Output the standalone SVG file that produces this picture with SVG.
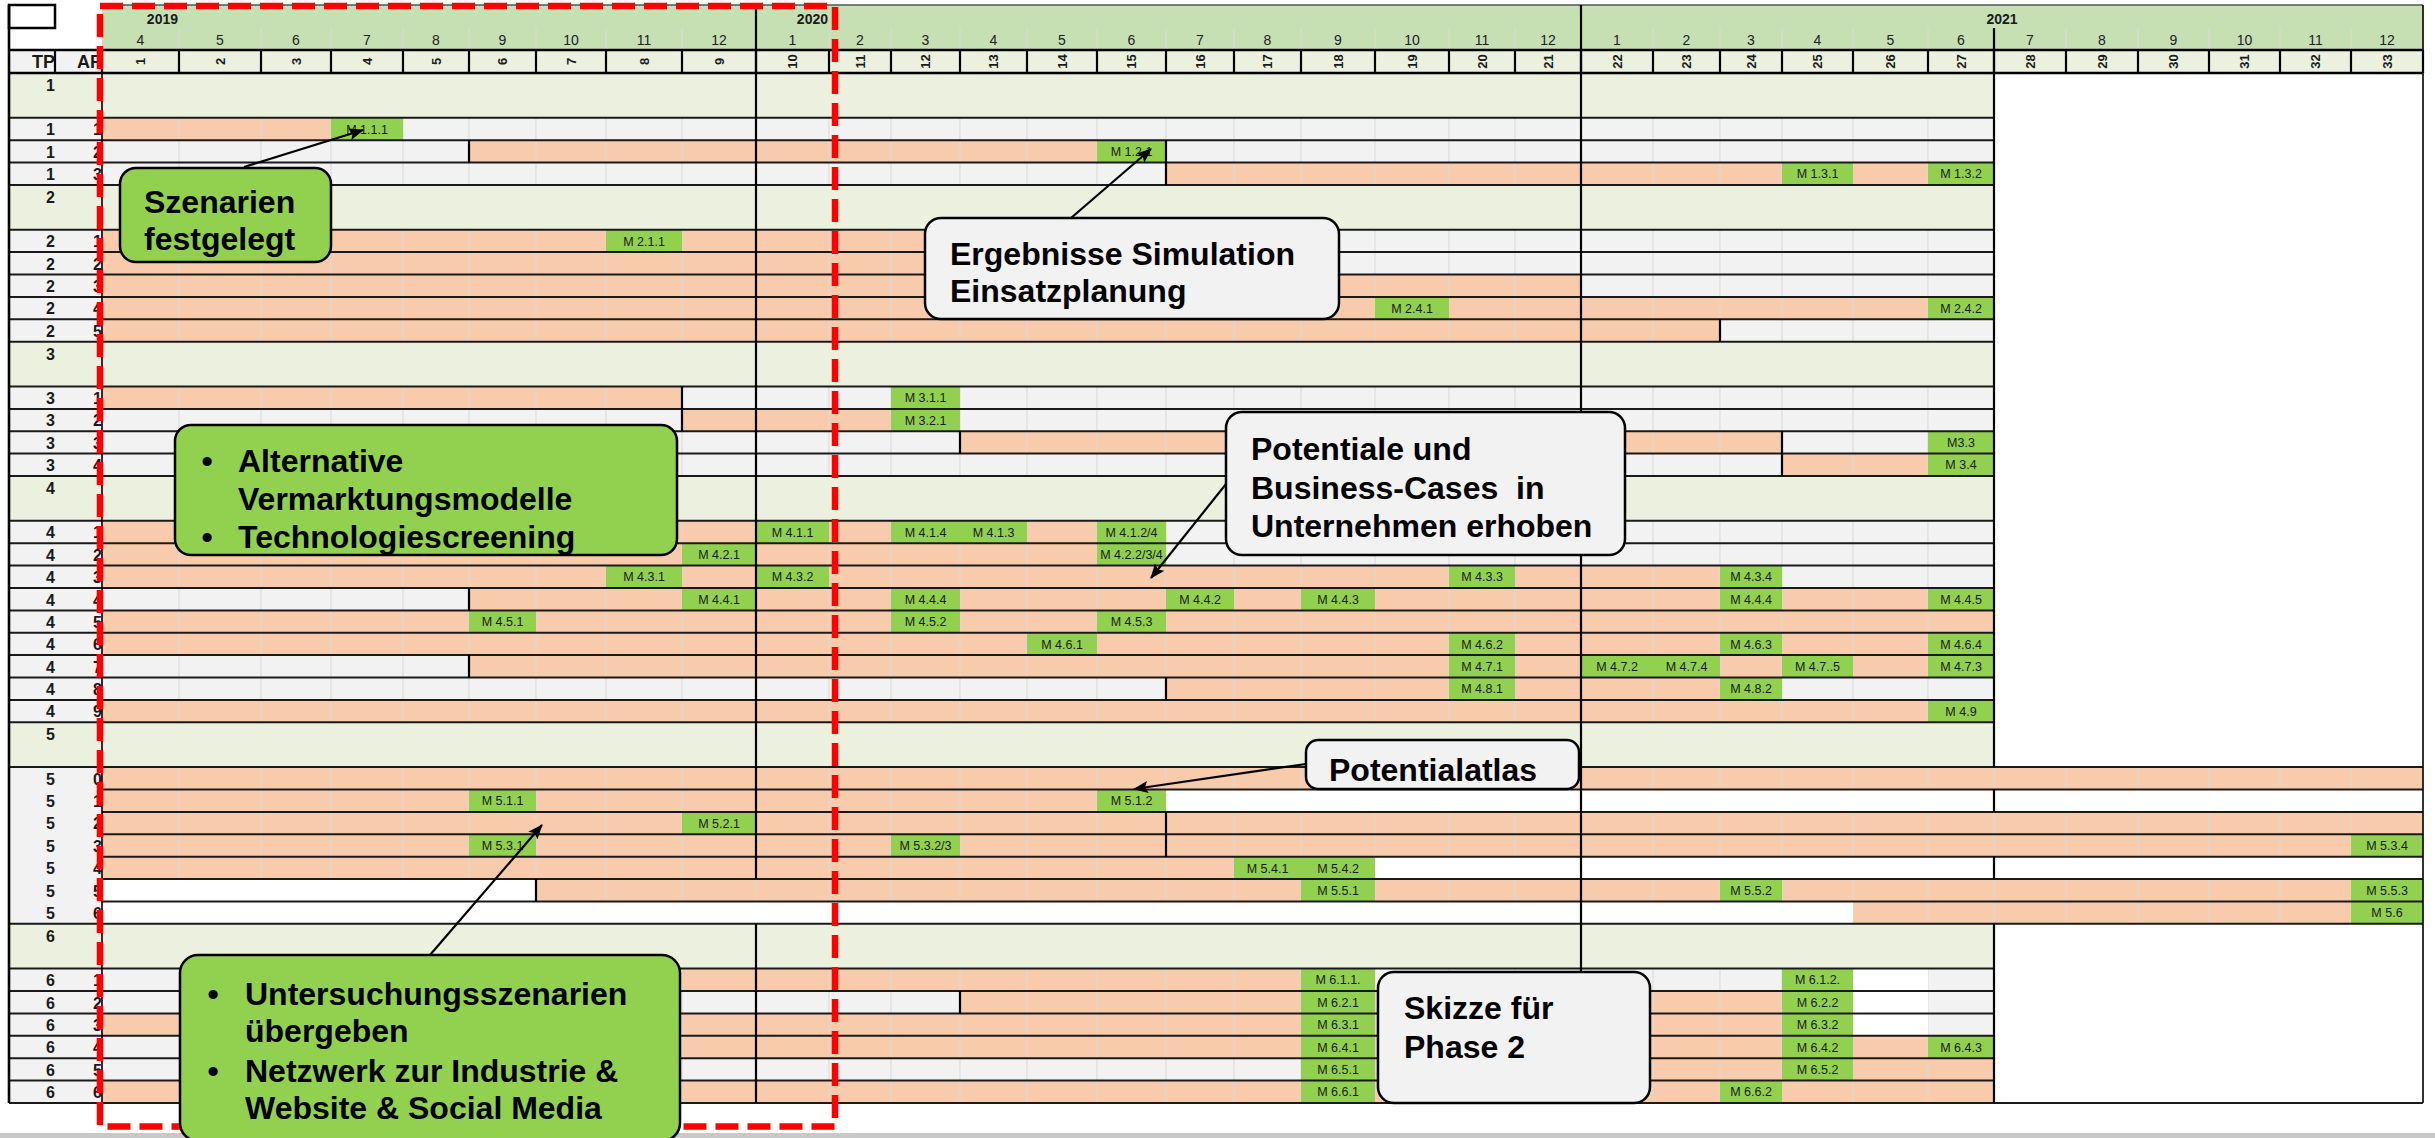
<svg xmlns="http://www.w3.org/2000/svg" width="2435" height="1138" viewBox="0 0 2435 1138">
<defs>
<style>
.o{fill:#F8CBAD}.g{fill:#F2F2F2}.w{fill:#FFFFFF}.m{fill:#92D050}.h{fill:#EBF1DE}
text{font-family:'Liberation Sans',Arial,sans-serif}
.ml{font-size:12.5px;text-anchor:middle;fill:#1a1a1a}
.tp{font-size:16px;font-weight:bold;text-anchor:end;fill:#1a1a1a}
.ap{font-size:16px;font-weight:bold;fill:#1a1a1a}
.mon{font-size:14px;text-anchor:middle;fill:#222}
.yr{font-size:14px;font-weight:bold;fill:#1a1a1a}
.apn{font-size:13px;font-weight:bold;text-anchor:middle;fill:#1a1a1a}
.hd{font-size:18px;font-weight:bold;fill:#1a1a1a}
.co{font-size:32px;font-weight:bold;fill:#000}
.bg{fill:#92D050;stroke:#000;stroke-width:2.5}
.bw{fill:#F2F2F2;stroke:#000;stroke-width:2.5}
.grid{stroke:#D9D9D9;stroke-width:1;fill:none}
.sep{stroke:#1a1a1a;stroke-width:2;fill:none}
.blk{stroke:#000;stroke-width:2.2;fill:none}
.con{stroke:#000;stroke-width:2.2;fill:none;marker-end:url(#arrow)}
</style>
<marker id="arrow" markerUnits="userSpaceOnUse" markerWidth="16" markerHeight="12" refX="14" refY="6" orient="auto">
<path d="M0,0 L15,6 L0,12 L3,6 Z" fill="#000"/>
</marker>
<clipPath id="labelclip"><rect x="9" y="73" width="93" height="1030"/></clipPath>
</defs>

<rect x="0" y="0" width="2435" height="1138" fill="#FFFFFF"/>
<rect x="0" y="1133" width="2435" height="5" fill="#C8C8C8"/>

<!-- header -->
<g id="header">
<rect x="102" y="5" width="2321" height="45" fill="#C6E0B4"/>
<rect x="9" y="50" width="93" height="23" class="g"/>
<rect x="102" y="50" width="2321" height="23" class="h"/>
<path class="grid" stroke="#CFCFCF" d="M179 28V50M261 28V50M331 28V50M403 28V50M469 28V50M536 28V50M606 28V50M682 28V50M829 28V50M891 28V50M960 28V50M1027 28V50M1097 28V50M1166 28V50M1234 28V50M1301 28V50M1375 28V50M1449 28V50M1515 28V50M1653 28V50M1720 28V50M1782 28V50M1853 28V50M1928 28V50M2066 28V50M2138 28V50M2209 28V50M2280 28V50M2351 28V50"/>
<path d="M102 5H2423" stroke="#555" stroke-width="1.5"/>
<rect x="9" y="5" width="46" height="23" fill="#fff" stroke="#000" stroke-width="2.5"/>
<text class="yr" x="178" y="24" text-anchor="end">2019</text>
<text class="yr" x="828" y="24" text-anchor="end">2020</text>
<text class="yr" x="2002" y="24" text-anchor="middle">2021</text>
<g class="mon">
<text x="140.5" y="45">4</text><text x="220" y="45">5</text><text x="296" y="45">6</text><text x="367" y="45">7</text><text x="436" y="45">8</text><text x="502.5" y="45">9</text><text x="571" y="45">10</text><text x="644" y="45">11</text><text x="719" y="45">12</text>
<text x="792.5" y="45">1</text><text x="860" y="45">2</text><text x="925.5" y="45">3</text><text x="993.5" y="45">4</text><text x="1062" y="45">5</text><text x="1131.5" y="45">6</text><text x="1200" y="45">7</text><text x="1267.5" y="45">8</text><text x="1338" y="45">9</text><text x="1412" y="45">10</text><text x="1482" y="45">11</text><text x="1548" y="45">12</text>
<text x="1617" y="45">1</text><text x="1686.5" y="45">2</text><text x="1751" y="45">3</text><text x="1817.5" y="45">4</text><text x="1890.5" y="45">5</text><text x="1961" y="45">6</text><text x="2030" y="45">7</text><text x="2102" y="45">8</text><text x="2173.5" y="45">9</text><text x="2244.5" y="45">10</text><text x="2315.5" y="45">11</text><text x="2387" y="45">12</text>
</g>
<g class="apn">
<text transform="translate(145,61.5) rotate(-90)">1</text><text transform="translate(224.5,61.5) rotate(-90)">2</text><text transform="translate(300.5,61.5) rotate(-90)">3</text><text transform="translate(371.5,61.5) rotate(-90)">4</text><text transform="translate(440.5,61.5) rotate(-90)">5</text><text transform="translate(507,61.5) rotate(-90)">6</text><text transform="translate(575.5,61.5) rotate(-90)">7</text><text transform="translate(648.5,61.5) rotate(-90)">8</text><text transform="translate(723.5,61.5) rotate(-90)">9</text><text transform="translate(797,61.5) rotate(-90)">10</text><text transform="translate(864.5,61.5) rotate(-90)">11</text><text transform="translate(930,61.5) rotate(-90)">12</text><text transform="translate(998,61.5) rotate(-90)">13</text><text transform="translate(1066.5,61.5) rotate(-90)">14</text><text transform="translate(1136,61.5) rotate(-90)">15</text><text transform="translate(1204.5,61.5) rotate(-90)">16</text><text transform="translate(1272,61.5) rotate(-90)">17</text><text transform="translate(1342.5,61.5) rotate(-90)">18</text><text transform="translate(1416.5,61.5) rotate(-90)">19</text><text transform="translate(1486.5,61.5) rotate(-90)">20</text><text transform="translate(1552.5,61.5) rotate(-90)">21</text><text transform="translate(1621.5,61.5) rotate(-90)">22</text><text transform="translate(1691,61.5) rotate(-90)">23</text><text transform="translate(1755.5,61.5) rotate(-90)">24</text><text transform="translate(1822,61.5) rotate(-90)">25</text><text transform="translate(1895,61.5) rotate(-90)">26</text><text transform="translate(1965.5,61.5) rotate(-90)">27</text><text transform="translate(2034.5,61.5) rotate(-90)">28</text><text transform="translate(2106.5,61.5) rotate(-90)">29</text><text transform="translate(2178,61.5) rotate(-90)">30</text><text transform="translate(2249,61.5) rotate(-90)">31</text><text transform="translate(2320,61.5) rotate(-90)">32</text><text transform="translate(2391.5,61.5) rotate(-90)">33</text>
</g>
<path class="blk" d="M102 50V73M179 50V73M261 50V73M331 50V73M403 50V73M469 50V73M536 50V73M606 50V73M682 50V73M756 50V73M829 50V73M891 50V73M960 50V73M1027 50V73M1097 50V73M1166 50V73M1234 50V73M1301 50V73M1375 50V73M1449 50V73M1515 50V73M1581 50V73M1653 50V73M1720 50V73M1782 50V73M1853 50V73M1928 50V73M1994 50V73M2066 50V73M2138 50V73M2209 50V73M2280 50V73M2351 50V73M2423 50V73M55 50V73"/>
<text class="hd" x="55" y="68" text-anchor="end">TP</text>
<text class="hd" x="77" y="68">AP</text>
</g>

<!-- work packages: base fills and bars -->
<g id="bars">
<rect class="g" x="9" y="73" width="1985" height="1030"/>
<rect class="o" x="102" y="767.1" width="2321" height="156.7"/>
<rect class="o" x="102" y="117.8" width="229" height="22.4"/>
<rect class="o" x="469" y="140.2" width="628" height="22.4"/>
<rect class="o" x="1166" y="162.6" width="616" height="22.4"/>
<rect class="o" x="1853" y="162.6" width="75" height="22.4"/>
<rect class="o" x="102" y="229.7" width="1064" height="22.4"/>
<rect class="o" x="102" y="252.1" width="1064" height="22.4"/>
<rect class="o" x="102" y="274.5" width="1479" height="22.4"/>
<rect class="o" x="102" y="296.9" width="1826" height="22.4"/>
<rect class="o" x="102" y="319.3" width="1618" height="22.4"/>
<rect class="o" x="102" y="386.5" width="580" height="22.4"/>
<rect class="o" x="682" y="408.9" width="209" height="22.4"/>
<rect class="o" x="960" y="431.2" width="822" height="22.4"/>
<rect class="o" x="1782" y="453.6" width="146" height="22.4"/>
<rect class="o" x="102" y="520.8" width="995" height="22.4"/>
<rect class="o" x="102" y="543.2" width="995" height="22.4"/>
<rect class="o" x="102" y="565.6" width="1618" height="22.4"/>
<rect class="o" x="469" y="588" width="1525" height="22.4"/>
<rect class="o" x="102" y="610.4" width="1892" height="22.4"/>
<rect class="o" x="102" y="632.8" width="1892" height="22.4"/>
<rect class="o" x="469" y="655.1" width="1525" height="22.4"/>
<rect class="o" x="1166" y="677.5" width="554" height="22.4"/>
<rect class="o" x="102" y="699.9" width="1892" height="22.4"/>
<rect class="o" x="261" y="968.6" width="1040" height="22.4"/>
<rect class="o" x="960" y="991" width="822" height="22.4"/>
<rect class="o" x="102" y="1013.4" width="1680" height="22.4"/>
<rect class="o" x="261" y="1035.8" width="1733" height="22.4"/>
<rect class="o" x="1375" y="1058.2" width="619" height="22.4"/>
<rect class="o" x="102" y="1080.6" width="1892" height="22.4"/>
</g>

<!-- month grid -->
<path id="grid" class="grid" d="M179 73V1103M261 73V1103M331 73V1103M403 73V1103M469 73V1103M536 73V1103M606 73V1103M682 73V1103M756 73V1103M829 73V1103M891 73V1103M960 73V1103M1027 73V1103M1097 73V1103M1166 73V1103M1234 73V1103M1301 73V1103M1375 73V1103M1449 73V1103M1515 73V1103M1581 73V1103M1653 73V1103M1720 73V1103M1782 73V1103M1853 73V1103M1928 73V1103M1994 767V924M2066 767V924M2138 767V924M2209 767V924M2280 767V924M2351 767V924"/>

<!-- empty cells and sub-project header rows -->
<g id="blanks">
<rect class="w" x="1994" y="73" width="429" height="694.1"/>
<rect class="w" x="1994" y="923.8" width="429" height="179.2"/>
<rect class="w" x="1166" y="789.5" width="1257" height="22.4"/>
<rect class="w" x="1375" y="856.7" width="1048" height="22.4"/>
<rect class="w" x="102" y="879" width="434" height="22.4"/>
<rect class="w" x="102" y="901.4" width="1751" height="22.4"/>
<rect class="w" x="1853" y="968.6" width="75" height="67.2"/>
<rect class="h" x="9" y="73" width="1985" height="44.8"/>
<rect class="h" x="9" y="185" width="1985" height="44.7"/>
<rect class="h" x="9" y="341.7" width="1985" height="44.8"/>
<rect class="h" x="9" y="476" width="1985" height="44.8"/>
<rect class="h" x="9" y="722.3" width="1985" height="44.8"/>
<rect class="h" x="9" y="923.8" width="1985" height="44.8"/>
</g>

<!-- row labels TP / AP -->
<g id="labels" clip-path="url(#labelclip)">
<text class="tp" x="55" y="91">1</text>
<text class="tp" x="55" y="135.3">1</text><text class="ap" x="93" y="135.3">1</text>
<text class="tp" x="55" y="157.7">1</text><text class="ap" x="93" y="157.7">2</text>
<text class="tp" x="55" y="180.1">1</text><text class="ap" x="93" y="180.1">3</text>
<text class="tp" x="55" y="203">2</text>
<text class="tp" x="55" y="247.2">2</text><text class="ap" x="93" y="247.2">1</text>
<text class="tp" x="55" y="269.6">2</text><text class="ap" x="93" y="269.6">2</text>
<text class="tp" x="55" y="292">2</text><text class="ap" x="93" y="292">3</text>
<text class="tp" x="55" y="314.4">2</text><text class="ap" x="93" y="314.4">4</text>
<text class="tp" x="55" y="336.8">2</text><text class="ap" x="93" y="336.8">5</text>
<text class="tp" x="55" y="359.7">3</text>
<text class="tp" x="55" y="404">3</text><text class="ap" x="93" y="404">1</text>
<text class="tp" x="55" y="426.4">3</text><text class="ap" x="93" y="426.4">2</text>
<text class="tp" x="55" y="448.7">3</text><text class="ap" x="93" y="448.7">3</text>
<text class="tp" x="55" y="471.1">3</text><text class="ap" x="93" y="471.1">4</text>
<text class="tp" x="55" y="494">4</text>
<text class="tp" x="55" y="538.3">4</text><text class="ap" x="93" y="538.3">1</text>
<text class="tp" x="55" y="560.7">4</text><text class="ap" x="93" y="560.7">2</text>
<text class="tp" x="55" y="583.1">4</text><text class="ap" x="93" y="583.1">3</text>
<text class="tp" x="55" y="605.5">4</text><text class="ap" x="93" y="605.5">4</text>
<text class="tp" x="55" y="627.9">4</text><text class="ap" x="93" y="627.9">5</text>
<text class="tp" x="55" y="650.3">4</text><text class="ap" x="93" y="650.3">6</text>
<text class="tp" x="55" y="672.6">4</text><text class="ap" x="93" y="672.6">7</text>
<text class="tp" x="55" y="695">4</text><text class="ap" x="93" y="695">8</text>
<text class="tp" x="55" y="717.4">4</text><text class="ap" x="93" y="717.4">9</text>
<text class="tp" x="55" y="740.3">5</text>
<text class="tp" x="55" y="784.6">5</text><text class="ap" x="93" y="784.6">0</text>
<text class="tp" x="55" y="807">5</text><text class="ap" x="93" y="807">1</text>
<text class="tp" x="55" y="829.4">5</text><text class="ap" x="93" y="829.4">2</text>
<text class="tp" x="55" y="851.8">5</text><text class="ap" x="93" y="851.8">3</text>
<text class="tp" x="55" y="874.2">5</text><text class="ap" x="93" y="874.2">4</text>
<text class="tp" x="55" y="896.5">5</text><text class="ap" x="93" y="896.5">5</text>
<text class="tp" x="55" y="918.9">5</text><text class="ap" x="93" y="918.9">6</text>
<text class="tp" x="55" y="941.8">6</text>
<text class="tp" x="55" y="986.1">6</text><text class="ap" x="93" y="986.1">1</text>
<text class="tp" x="55" y="1008.5">6</text><text class="ap" x="93" y="1008.5">2</text>
<text class="tp" x="55" y="1030.9">6</text><text class="ap" x="93" y="1030.9">3</text>
<text class="tp" x="55" y="1053.3">6</text><text class="ap" x="93" y="1053.3">4</text>
<text class="tp" x="55" y="1075.7">6</text><text class="ap" x="93" y="1075.7">5</text>
<text class="tp" x="55" y="1098.1">6</text><text class="ap" x="93" y="1098.1">6</text>
</g>

<!-- milestones -->
<g id="milestones">
<rect class="m" x="331" y="117.8" width="72" height="22.4"/><text class="ml" x="367" y="133.6">M 1.1.1</text>
<rect class="m" x="1097" y="140.2" width="69" height="22.4"/><text class="ml" x="1131.5" y="156">M 1.2.1</text>
<rect class="m" x="1782" y="162.6" width="71" height="22.4"/><text class="ml" x="1817.5" y="178.4">M 1.3.1</text>
<rect class="m" x="1928" y="162.6" width="66" height="22.4"/><text class="ml" x="1961" y="178.4">M 1.3.2</text>
<rect class="m" x="606" y="229.7" width="76" height="22.4"/><text class="ml" x="644" y="245.5">M 2.1.1</text>
<rect class="m" x="1375" y="296.9" width="74" height="22.4"/><text class="ml" x="1412" y="312.7">M 2.4.1</text>
<rect class="m" x="1928" y="296.9" width="66" height="22.4"/><text class="ml" x="1961" y="312.7">M 2.4.2</text>
<rect class="m" x="891" y="386.5" width="69" height="22.4"/><text class="ml" x="925.5" y="402.3">M 3.1.1</text>
<rect class="m" x="891" y="408.9" width="69" height="22.4"/><text class="ml" x="925.5" y="424.7">M 3.2.1</text>
<rect class="m" x="1928" y="431.2" width="66" height="22.4"/><text class="ml" x="1961" y="447">M3.3</text>
<rect class="m" x="1928" y="453.6" width="66" height="22.4"/><text class="ml" x="1961" y="469.4">M 3.4</text>
<rect class="m" x="756" y="520.8" width="73" height="22.4"/><text class="ml" x="792.5" y="536.6">M 4.1.1</text>
<rect class="m" x="891" y="520.8" width="69" height="22.4"/><text class="ml" x="925.5" y="536.6">M 4.1.4</text>
<rect class="m" x="960" y="520.8" width="67" height="22.4"/><text class="ml" x="993.5" y="536.6">M 4.1.3</text>
<rect class="m" x="1097" y="520.8" width="69" height="22.4"/><text class="ml" x="1131.5" y="536.6">M 4.1.2/4</text>
<rect class="m" x="682" y="543.2" width="74" height="22.4"/><text class="ml" x="719" y="559">M 4.2.1</text>
<rect class="m" x="1097" y="543.2" width="69" height="22.4"/><text class="ml" x="1131.5" y="559">M 4.2.2/3/4</text>
<rect class="m" x="606" y="565.6" width="76" height="22.4"/><text class="ml" x="644" y="581.4">M 4.3.1</text>
<rect class="m" x="756" y="565.6" width="73" height="22.4"/><text class="ml" x="792.5" y="581.4">M 4.3.2</text>
<rect class="m" x="1449" y="565.6" width="66" height="22.4"/><text class="ml" x="1482" y="581.4">M 4.3.3</text>
<rect class="m" x="1720" y="565.6" width="62" height="22.4"/><text class="ml" x="1751" y="581.4">M 4.3.4</text>
<rect class="m" x="682" y="588" width="74" height="22.4"/><text class="ml" x="719" y="603.8">M 4.4.1</text>
<rect class="m" x="891" y="588" width="69" height="22.4"/><text class="ml" x="925.5" y="603.8">M 4.4.4</text>
<rect class="m" x="1166" y="588" width="68" height="22.4"/><text class="ml" x="1200" y="603.8">M 4.4.2</text>
<rect class="m" x="1301" y="588" width="74" height="22.4"/><text class="ml" x="1338" y="603.8">M 4.4.3</text>
<rect class="m" x="1720" y="588" width="62" height="22.4"/><text class="ml" x="1751" y="603.8">M 4.4.4</text>
<rect class="m" x="1928" y="588" width="66" height="22.4"/><text class="ml" x="1961" y="603.8">M 4.4.5</text>
<rect class="m" x="469" y="610.4" width="67" height="22.4"/><text class="ml" x="502.5" y="626.2">M 4.5.1</text>
<rect class="m" x="891" y="610.4" width="69" height="22.4"/><text class="ml" x="925.5" y="626.2">M 4.5.2</text>
<rect class="m" x="1097" y="610.4" width="69" height="22.4"/><text class="ml" x="1131.5" y="626.2">M 4.5.3</text>
<rect class="m" x="1027" y="632.8" width="70" height="22.4"/><text class="ml" x="1062" y="648.6">M 4.6.1</text>
<rect class="m" x="1449" y="632.8" width="66" height="22.4"/><text class="ml" x="1482" y="648.6">M 4.6.2</text>
<rect class="m" x="1720" y="632.8" width="62" height="22.4"/><text class="ml" x="1751" y="648.6">M 4.6.3</text>
<rect class="m" x="1928" y="632.8" width="66" height="22.4"/><text class="ml" x="1961" y="648.6">M 4.6.4</text>
<rect class="m" x="1449" y="655.1" width="66" height="22.4"/><text class="ml" x="1482" y="670.9">M 4.7.1</text>
<rect class="m" x="1581" y="655.1" width="72" height="22.4"/><text class="ml" x="1617" y="670.9">M 4.7.2</text>
<rect class="m" x="1653" y="655.1" width="67" height="22.4"/><text class="ml" x="1686.5" y="670.9">M 4.7.4</text>
<rect class="m" x="1782" y="655.1" width="71" height="22.4"/><text class="ml" x="1817.5" y="670.9">M 4.7..5</text>
<rect class="m" x="1928" y="655.1" width="66" height="22.4"/><text class="ml" x="1961" y="670.9">M 4.7.3</text>
<rect class="m" x="1449" y="677.5" width="66" height="22.4"/><text class="ml" x="1482" y="693.3">M 4.8.1</text>
<rect class="m" x="1720" y="677.5" width="62" height="22.4"/><text class="ml" x="1751" y="693.3">M 4.8.2</text>
<rect class="m" x="1928" y="699.9" width="66" height="22.4"/><text class="ml" x="1961" y="715.7">M 4.9</text>
<rect class="m" x="469" y="789.5" width="67" height="22.4"/><text class="ml" x="502.5" y="805.3">M 5.1.1</text>
<rect class="m" x="1097" y="789.5" width="69" height="22.4"/><text class="ml" x="1131.5" y="805.3">M 5.1.2</text>
<rect class="m" x="682" y="811.9" width="74" height="22.4"/><text class="ml" x="719" y="827.7">M 5.2.1</text>
<rect class="m" x="469" y="834.3" width="67" height="22.4"/><text class="ml" x="502.5" y="850.1">M 5.3.1</text>
<rect class="m" x="891" y="834.3" width="69" height="22.4"/><text class="ml" x="925.5" y="850.1">M 5.3.2/3</text>
<rect class="m" x="2351" y="834.3" width="72" height="22.4"/><text class="ml" x="2387" y="850.1">M 5.3.4</text>
<rect class="m" x="1234" y="856.7" width="67" height="22.4"/><text class="ml" x="1267.5" y="872.5">M 5.4.1</text>
<rect class="m" x="1301" y="856.7" width="74" height="22.4"/><text class="ml" x="1338" y="872.5">M 5.4.2</text>
<rect class="m" x="1301" y="879" width="74" height="22.4"/><text class="ml" x="1338" y="894.8">M 5.5.1</text>
<rect class="m" x="1720" y="879" width="62" height="22.4"/><text class="ml" x="1751" y="894.8">M 5.5.2</text>
<rect class="m" x="2351" y="879" width="72" height="22.4"/><text class="ml" x="2387" y="894.8">M 5.5.3</text>
<rect class="m" x="2351" y="901.4" width="72" height="22.4"/><text class="ml" x="2387" y="917.2">M 5.6</text>
<rect class="m" x="1301" y="968.6" width="74" height="22.4"/><text class="ml" x="1338" y="984.4">M 6.1.1.</text>
<rect class="m" x="1782" y="968.6" width="71" height="22.4"/><text class="ml" x="1817.5" y="984.4">M 6.1.2.</text>
<rect class="m" x="1301" y="991" width="74" height="22.4"/><text class="ml" x="1338" y="1006.8">M 6.2.1</text>
<rect class="m" x="1782" y="991" width="71" height="22.4"/><text class="ml" x="1817.5" y="1006.8">M 6.2.2</text>
<rect class="m" x="1301" y="1013.4" width="74" height="22.4"/><text class="ml" x="1338" y="1029.2">M 6.3.1</text>
<rect class="m" x="1782" y="1013.4" width="71" height="22.4"/><text class="ml" x="1817.5" y="1029.2">M 6.3.2</text>
<rect class="m" x="1301" y="1035.8" width="74" height="22.4"/><text class="ml" x="1338" y="1051.6">M 6.4.1</text>
<rect class="m" x="1782" y="1035.8" width="71" height="22.4"/><text class="ml" x="1817.5" y="1051.6">M 6.4.2</text>
<rect class="m" x="1928" y="1035.8" width="66" height="22.4"/><text class="ml" x="1961" y="1051.6">M 6.4.3</text>
<rect class="m" x="1301" y="1058.2" width="74" height="22.4"/><text class="ml" x="1338" y="1074">M 6.5.1</text>
<rect class="m" x="1782" y="1058.2" width="71" height="22.4"/><text class="ml" x="1817.5" y="1074">M 6.5.2</text>
<rect class="m" x="1301" y="1080.6" width="74" height="22.4"/><text class="ml" x="1338" y="1096.4">M 6.6.1</text>
<rect class="m" x="1720" y="1080.6" width="62" height="22.4"/><text class="ml" x="1751" y="1096.4">M 6.6.2</text>
</g>

<!-- row separators and borders -->
<g id="rules">
<path class="sep" d="M9 117.8H1994M9 140.2H1994M9 162.6H1994M9 185H1994M9 229.7H1994M9 252.1H1994M9 274.5H1994M9 296.9H1994M9 319.3H1994M9 341.7H1994M9 386.5H1994M9 408.9H1994M9 431.2H1994M9 453.6H1994M9 476H1994M9 520.8H1994M9 543.2H1994M9 565.6H1994M9 588H1994M9 610.4H1994M9 632.8H1994M9 655.1H1994M9 677.5H1994M9 699.9H1994M9 722.3H1994M9 968.6H1994M9 991H1994M9 1013.4H1994M9 1035.8H1994M9 1058.2H1994M9 1080.6H1994M102 789.5H2423M102 811.9H2423M102 834.3H2423M102 856.7H2423M102 879H2423M102 901.4H2423M9 767.1H2423M9 923.8H2423M9 1103H2423"/>
<path d="M9 50H2423M9 73H2423" stroke="#000" stroke-width="2.6"/>
<path d="M9 5V1103" stroke="#000" stroke-width="2.6"/>
<path d="M102 50V1103M2423 5V1103" stroke="#000" stroke-width="1.6"/>
<path class="blk" d="M756 8V879M756 923.8V1103M1581 5V1103M1994 28V767.1M1994 789.5V811.9M1994 856.7V879M1994 923.8V1103"/>
<path class="blk" d="M469 140.2V162.6M1166 140.2V185M1720 319.3V341.7M682 386.5V431.2M960 431.2V453.6M1782 431.2V476M469 588V610.4M469 655.1V677.5M1166 677.5V699.9M1166 811.9V856.7M536 879V901.4M960 991V1013.4"/>
</g>

<!-- dashed frame -->
<rect id="frame" x="100" y="6" width="735" height="1120.5" fill="none" stroke="#FF0000" stroke-width="6.5" stroke-dasharray="23 9"/>

<!-- callouts -->
<g id="callout-szenarien">
<rect class="bg" x="120" y="168" width="211" height="94" rx="16"/>
<text class="co" x="144" y="213">Szenarien</text>
<text class="co" x="144" y="250">festgelegt</text>
</g>
<g id="callout-ergebnisse">
<rect class="bw" x="925" y="218" width="414" height="101" rx="16"/>
<text class="co" x="950" y="265">Ergebnisse Simulation</text>
<text class="co" x="950" y="302">Einsatzplanung</text>
</g>
<g id="callout-alternative">
<rect class="bg" x="175" y="425" width="502" height="130" rx="16"/>
<text class="co" x="207" y="472" text-anchor="middle">•</text>
<text class="co" x="238" y="472">Alternative</text>
<text class="co" x="238" y="510">Vermarktungsmodelle</text>
<text class="co" x="207" y="548" text-anchor="middle">•</text>
<text class="co" x="238" y="548">Technologiescreening</text>
</g>
<g id="callout-potentiale">
<rect class="bw" x="1226" y="412" width="399" height="143" rx="16"/>
<text class="co" x="1251" y="460">Potentiale und</text>
<text class="co" x="1251" y="499" style="white-space:pre">Business-Cases  in</text>
<text class="co" x="1251" y="537">Unternehmen erhoben</text>
</g>
<g id="callout-potentialatlas">
<rect class="bw" x="1306" y="740" width="273" height="49" rx="12"/>
<text class="co" x="1329" y="781">Potentialatlas</text>
</g>
<g id="callout-untersuchung">
<rect class="bg" x="180" y="955" width="500" height="186" rx="18"/>
<text class="co" x="213" y="1005" text-anchor="middle">•</text>
<text class="co" x="245" y="1005">Untersuchungsszenarien</text>
<text class="co" x="245" y="1042">übergeben</text>
<text class="co" x="213" y="1082" text-anchor="middle">•</text>
<text class="co" x="245" y="1082">Netzwerk zur Industrie &amp;</text>
<text class="co" x="245" y="1119">Website &amp; Social Media</text>
</g>
<g id="callout-skizze">
<rect class="bw" x="1378" y="972" width="272" height="131" rx="16"/>
<text class="co" x="1404" y="1019">Skizze für</text>
<text class="co" x="1404" y="1058">Phase 2</text>
</g>

<g id="connectors">
<path class="con" d="M244 167L363 130"/>
<path class="con" d="M1071 218L1151 149"/>
<path class="con" d="M1226 484L1151 578"/>
<path class="con" d="M1306 764L1134 789"/>
<path class="con" d="M430 955L542 825"/>
</g>
</svg>
